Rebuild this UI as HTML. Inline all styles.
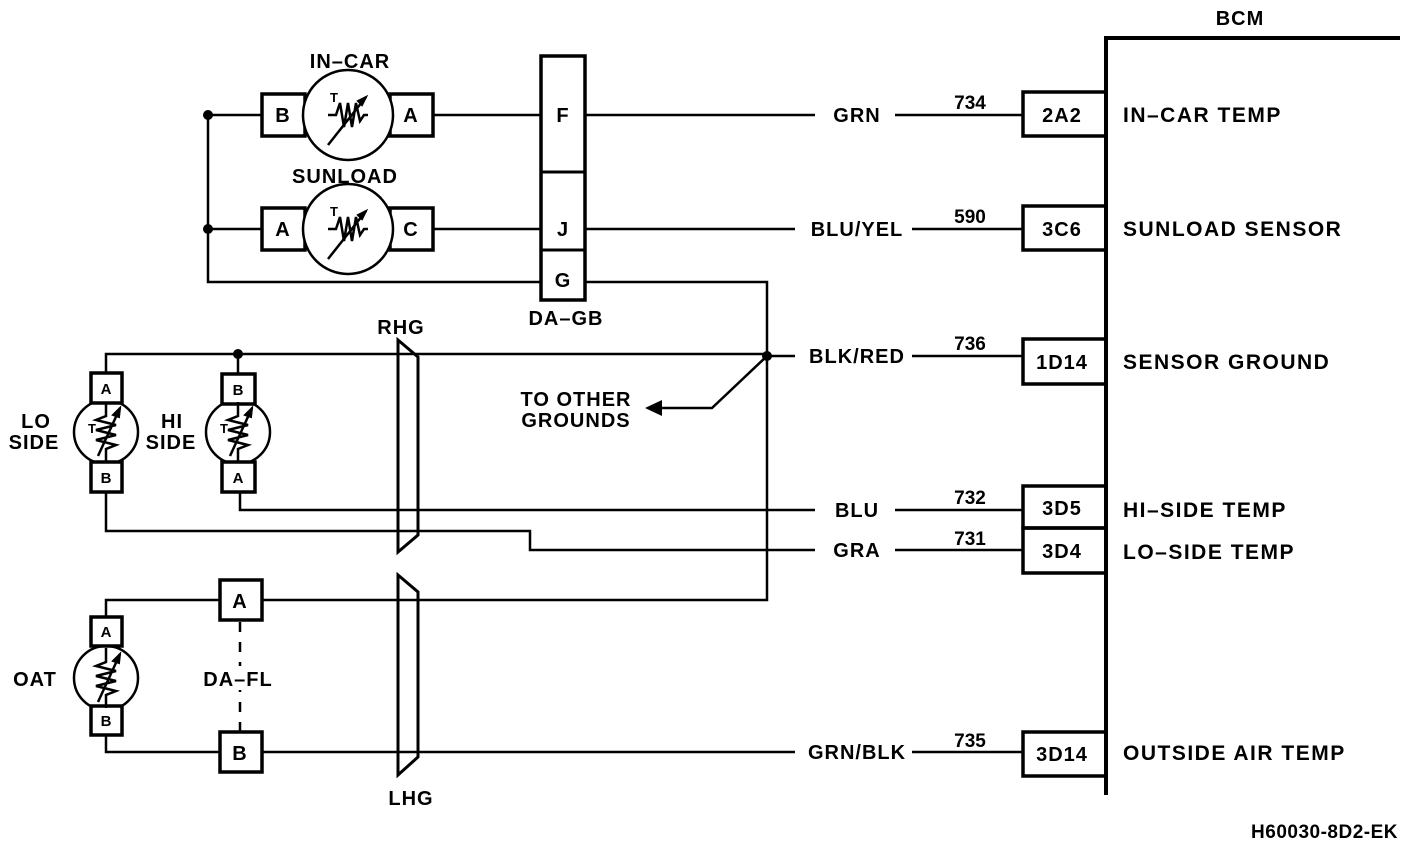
<!DOCTYPE html>
<html><head><meta charset="utf-8"><style>
html,body{margin:0;padding:0;background:#fff}
svg{display:block}
text{font-family:"Liberation Sans",Arial,sans-serif;font-weight:bold;fill:#000}
</style></head><body>
<svg width="1408" height="844" viewBox="0 0 1408 844" xmlns="http://www.w3.org/2000/svg">
<defs>
<g id="th">
 <path d="M-20,0 L-12,0 L-8,-12 L-4,12 L0,-12 L4,12 L8,-12 L12,6 L16,0 L20,0" fill="none" stroke="#000" stroke-width="2.5"/>
 <path d="M-20,30 L18,-18" stroke="#000" stroke-width="2.5"/>
 <path d="M18,-18 L10,-14 L14,-10 Z" fill="#000" stroke="#000" stroke-width="2"/>
</g>
<g id="tv">
 <path d="M0,-30 V-16 L-10,-12 L10,-7 L-10,-2 L10,3 L-10,8 L10,13 L0,17 V30" fill="none" stroke="#000" stroke-width="2.5"/>
 <path d="M-8,24 L14,-24" stroke="#000" stroke-width="2.5"/>
 <path d="M14,-24 L7,-17 L13,-15 Z" fill="#000" stroke="#000" stroke-width="2"/>
</g>
</defs>
<g fill="none" stroke="#000" stroke-width="2.5">
 <path d="M1400,38 H1106 V795" stroke-width="4"/>
 <rect x="1023" y="92" width="83" height="44" stroke-width="3.5"/>
 <rect x="1023" y="206" width="83" height="44" stroke-width="3.5"/>
 <rect x="1023" y="339" width="83" height="45" stroke-width="3.5"/>
 <rect x="1023" y="486" width="83" height="42" stroke-width="3.5"/>
 <rect x="1023" y="528" width="83" height="45" stroke-width="3.5"/>
 <rect x="1023" y="732" width="83" height="44" stroke-width="3.5"/>
 <path d="M585,115 H815 M895,115 H1023"/>
 <path d="M585,229 H795 M912,229 H1023"/>
 <path d="M767,356 H795 M912,356 H1023"/>
 <path d="M240,492 V510 H815 M895,510 H1023"/>
 <path d="M106,492 V531 H530 V550 H815 M895,550 H1023"/>
 <path d="M106,735 V752 H220 M262,752 H795 M912,752 H1023"/>
 <rect x="541" y="56" width="44" height="244" stroke-width="3.5"/>
 <path d="M541,172 H585 M541,250 H585" stroke-width="3"/>
 <path d="M208,115 H262 M305,115 H390 M433,115 H541"/>
 <path d="M208,229 H262 M305,229 H390 M433,229 H541"/>
 <path d="M208,115 V282 H541 M585,282 H767 V600 H262 M220,600 H106 V618"/>
 <rect x="262" y="94" width="43" height="42" stroke-width="3.5"/>
 <rect x="390" y="94" width="43" height="42" stroke-width="3.5"/>
 <circle cx="348" cy="115" r="45" fill="#fff"/>
 <rect x="262" y="208" width="43" height="42" stroke-width="3.5"/>
 <rect x="390" y="208" width="43" height="42" stroke-width="3.5"/>
 <circle cx="348" cy="229" r="45" fill="#fff"/>
 <path d="M106,373 V354 H767 M238,354 V374"/>
 <circle cx="106" cy="432" r="32" fill="#fff"/>
 <circle cx="238" cy="432" r="32" fill="#fff"/>
 <rect x="91" y="373" width="31" height="30" stroke-width="3.5" fill="#fff"/>
 <rect x="91" y="462" width="31" height="30" stroke-width="3.5" fill="#fff"/>
 <rect x="222" y="374" width="33" height="30" stroke-width="3.5" fill="#fff"/>
 <rect x="222" y="462" width="33" height="30" stroke-width="3.5" fill="#fff"/>
 <circle cx="106" cy="678" r="32" fill="#fff"/>
 <rect x="91" y="617" width="31" height="29" stroke-width="3.5" fill="#fff"/>
 <rect x="91" y="706" width="31" height="29" stroke-width="3.5" fill="#fff"/>
 <rect x="220" y="580" width="42" height="40" stroke-width="3.5"/>
 <rect x="220" y="732" width="42" height="40" stroke-width="3.5"/>
 <path d="M240,622 V732" stroke-dasharray="10,10"/>
 <path d="M398,340 L418,357 V535 L398,552 Z" stroke-width="3"/>
 <path d="M398,575 L418,592 V757 L398,775 Z" stroke-width="3"/>
 <path d="M767,356 L712,408 H660"/>
</g>
<rect x="200" y="666" width="78" height="24" fill="#fff"/>
<use href="#th" transform="translate(348,115)"/>
<use href="#th" transform="translate(348,229)"/>
<use href="#tv" transform="translate(106,432)"/>
<use href="#tv" transform="translate(238,432)"/>
<use href="#tv" transform="translate(106,678)"/>
<g fill="#000">
 <path d="M645,408 L662,400 L662,416 Z"/>
 <circle cx="208" cy="115" r="5"/><circle cx="208" cy="229" r="5"/>
 <circle cx="767" cy="356" r="5"/><circle cx="238" cy="354" r="5"/>
</g>
<g font-size="13">
 <text x="330" y="102">T</text><text x="330" y="216">T</text>
 <text x="88" y="433">T</text><text x="220" y="433">T</text>
</g>
<g font-size="20" text-anchor="middle" letter-spacing="1">
 <text x="350" y="68">IN–CAR</text>
 <text x="345" y="183">SUNLOAD</text>
 <text x="283" y="122">B</text><text x="411" y="122">A</text>
 <text x="283" y="236">A</text><text x="411" y="236">C</text>
 <text x="563" y="122">F</text><text x="563" y="236">J</text><text x="563" y="287">G</text>
 <text x="566" y="325">DA–GB</text>
 <text x="401" y="334">RHG</text>
 <text x="411" y="805">LHG</text>
 <text x="36" y="428">LO</text><text x="34" y="449">SIDE</text>
 <text x="172" y="428">HI</text><text x="171" y="449">SIDE</text>
 <text x="35" y="686">OAT</text>
 <text x="238" y="686">DA–FL</text>
 <text x="240" y="608">A</text><text x="240" y="760">B</text>
 <text x="576" y="406">TO OTHER</text><text x="576" y="427">GROUNDS</text>
 <text x="857" y="122">GRN</text>
 <text x="857" y="236">BLU/YEL</text>
 <text x="857" y="363">BLK/RED</text>
 <text x="857" y="517">BLU</text>
 <text x="857" y="557">GRA</text>
 <text x="857" y="759">GRN/BLK</text>
 <text x="1062" y="122">2A2</text><text x="1062" y="236">3C6</text>
 <text x="1062" y="369">1D14</text><text x="1062" y="515">3D5</text>
 <text x="1062" y="558">3D4</text><text x="1062" y="761">3D14</text>
 <text x="1240" y="25">BCM</text>
</g>
<g font-size="15" text-anchor="middle">
 <text x="106" y="394">A</text><text x="106" y="483">B</text>
 <text x="238" y="395">B</text><text x="238" y="483">A</text>
 <text x="106" y="637">A</text><text x="106" y="726">B</text>
</g>
<g font-size="19" text-anchor="middle">
 <text x="970" y="109">734</text><text x="970" y="223">590</text>
 <text x="970" y="350">736</text><text x="970" y="504">732</text>
 <text x="970" y="545">731</text><text x="970" y="747">735</text>
</g>
<g font-size="21" letter-spacing="1.5">
 <text x="1123" y="122">IN–CAR TEMP</text>
 <text x="1123" y="236">SUNLOAD SENSOR</text>
 <text x="1123" y="369">SENSOR GROUND</text>
 <text x="1123" y="517">HI–SIDE TEMP</text>
 <text x="1123" y="559">LO–SIDE TEMP</text>
 <text x="1123" y="760">OUTSIDE AIR TEMP</text>
</g>
<text x="1398" y="838" font-size="19" text-anchor="end" letter-spacing="0.5">H60030-8D2-EK</text>
</svg>
</body></html>
